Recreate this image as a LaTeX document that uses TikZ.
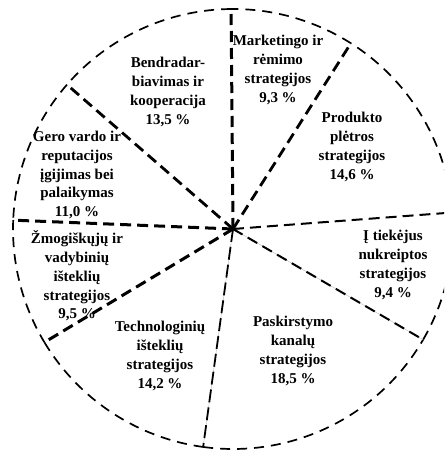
\documentclass[tikz,border=0pt]{standalone}
\usepackage{fontspec}
\setmainfont{Liberation Serif}
\begin{document}
\begin{tikzpicture}[x=1pt,y=1pt,
  rim/.style={line width=1.7pt, dash pattern=on 10pt off 7pt},
  spoke/.style={dash pattern=on 11pt off 6pt},
  hair/.style={gray!55, line width=0.4pt},
  lbl/.style={align=center, inner sep=0pt,
    font=\bfseries\fontsize{15}{18.8}\selectfont}]
\useasboundingbox (0,0) rectangle (444,452);
\clip (0,0) rectangle (444,452);
\coordinate (c) at (233,223);

% sector boundaries (angles in degrees)
\foreach \i/\a in {0/90.5, 1/57.6, 2/4.3, 3/-30.2, 4/-97.8, 5/-149, 6/177.7, 7/139}
  \coordinate (p\i) at ([shift={(\a:220)}]c);

% outer rim of every sector
\foreach \a/\b/\i in {57.6/90.5/1, 4.3/57.6/2, -30.2/4.3/3, -97.8/-30.2/4,
                      -149/-97.8/5, 177.7/211/6, 139/177.7/7, 90.5/139/0}
  \draw[rim] (p\i) arc[start angle=\a, end angle=\b, radius=220pt];

% spokes
\draw[hair] (c) -- (p3);
\draw[hair] (c) -- (p4);
\draw[spoke, line width=3pt] (c) -- (p0);
\draw[spoke, line width=2.8pt] (c) -- (p1);
\draw[spoke, line width=2pt] (c) -- (p2);
\draw[spoke, line width=2pt] (c) -- (p3);
\draw[spoke, line width=1.8pt, dash pattern=on 13pt off 5pt] (c) -- (p4);
\draw[spoke, line width=3pt] (c) -- (p5);
\draw[spoke, line width=3pt] (c) -- (p6);
\draw[spoke, line width=2.8pt] (c) -- (p7);

% labels
\node[lbl] (mk) at (278,382) {Marketingo ir\\rėmimo\\strategijos\\9,3 \%};
\node[lbl] (bd) at (168,360) {Bendradar-\\biavimas ir\\kooperacija\\13,5 \%};
\node[lbl] (pr) at (352,305) {Produkto\\plėtros\\strategijos\\14,6 \%};
\node[lbl] (gv) at (77,277) {Gero vardo ir\\reputacijos\\įgijimas bei\\palaikymas\\11,0 \%};
\node[lbl] (zm) at (77,176) {Žmogiškųjų ir\\vadybinių\\išteklių\\strategijos\\9,5 \%};
\node[lbl] (tk) at (393,187) {Į tiekėjus\\nukreiptos\\strategijos\\9,4 \%};
\node[lbl] (tc) at (160,96) {Technologinių\\išteklių\\strategijos\\14,2 \%};
\node[lbl] (pk) at (293,101) {Paskirstymo\\kanalų\\strategijos\\18,5 \%};
\end{tikzpicture}
\end{document}
